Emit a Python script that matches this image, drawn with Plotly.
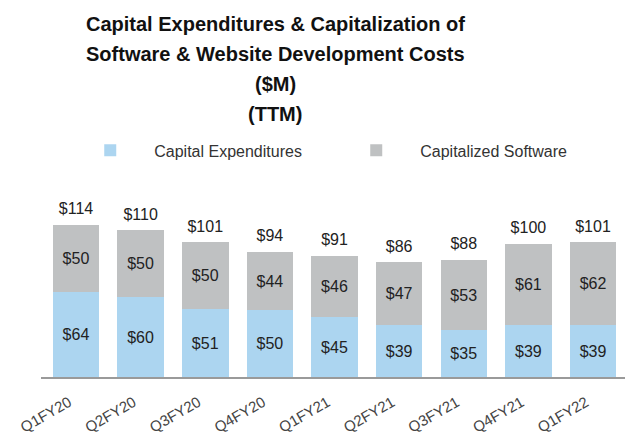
import plotly.graph_objects as go

# Quarterly TTM values ($M)
quarters = ['Q1FY20', 'Q2FY20', 'Q3FY20', 'Q4FY20', 'Q1FY21',
            'Q2FY21', 'Q3FY21', 'Q4FY21', 'Q1FY22']
capex = [64, 60, 51, 50, 45, 39, 35, 39, 39]
cap_software = [50, 50, 50, 44, 46, 47, 53, 61, 62]

title_lines = ['Capital Expenditures & Capitalization of',
               'Software & Website Development Costs',
               '($M)', '(TTM)']

totals = [a + b for a, b in zip(capex, cap_software)]

FONT = 'Liberation Sans, Arial, sans-serif'
BLUE = '#acd5f0'
GRAY = '#bfc1c2'

fig = go.Figure()

fig.add_trace(go.Bar(
    x=quarters, y=capex, name='Capital Expenditures',
    marker=dict(color=BLUE, line=dict(width=0)),
    text=[f'${v}' for v in capex], textposition='inside',
    insidetextanchor='middle', textangle=0,
    textfont=dict(size=16, color='#222222', family=FONT),
))
fig.add_trace(go.Bar(
    x=quarters, y=cap_software, name='Capitalized Software',
    marker=dict(color=GRAY, line=dict(width=0)),
    text=[f'${v}' for v in cap_software], textposition='inside',
    insidetextanchor='middle', textangle=0,
    textfont=dict(size=16, color='#222222', family=FONT),
))

# totals above each stack (invisible markers just push the text up a bit)
fig.add_trace(go.Scatter(
    x=quarters, y=totals, mode='markers+text',
    marker=dict(size=9, color='rgba(0,0,0,0)'),
    text=[f'${v}' for v in totals], textposition='top center',
    textfont=dict(size=16, color='#222222', family=FONT),
    showlegend=False, hoverinfo='skip',
))

# title, one line per annotation so the line spacing matches the slide
plot_h = 177
for i, line in enumerate(title_lines):
    ypx = 24 + 30 * i
    fig.add_annotation(
        text=f'<b>{line}</b>', xref='paper', yref='paper',
        x=(275 - 41) / 587, y=(377 - ypx) / plot_h,
        xanchor='center', yanchor='middle', showarrow=False,
        font=dict(size=20, color='#111111', family=FONT),
    )

# page body has an 8px margin, so the figure is 8px smaller each way
fig.update_layout(
    width=625, height=429,
    barmode='stack', bargap=0.28,
    plot_bgcolor='white', paper_bgcolor='white',
    margin=dict(l=33, r=5, t=192, b=60, autoexpand=False),
    font=dict(family=FONT, color='#333333'),
    legend=dict(
        orientation='h', x=0.043, xanchor='left', y=1.28, yanchor='middle',
        itemwidth=78, entrywidth=173, font=dict(size=16, color='#333333'),
        bgcolor='rgba(0,0,0,0)', traceorder='normal',
    ),
    xaxis=dict(
        showline=True, linecolor='#9a9a9a', linewidth=2,
        tickangle=-30, tickfont=dict(size=15, color='#444444'),
        ticklabelstandoff=9, ticklabelshift=-7,
        showgrid=False, ticks='', automargin=False,
    ),
    yaxis=dict(
        range=[0, 132.75], visible=False, showgrid=False, automargin=False,
    ),
)

fig.write_html('out.html')
